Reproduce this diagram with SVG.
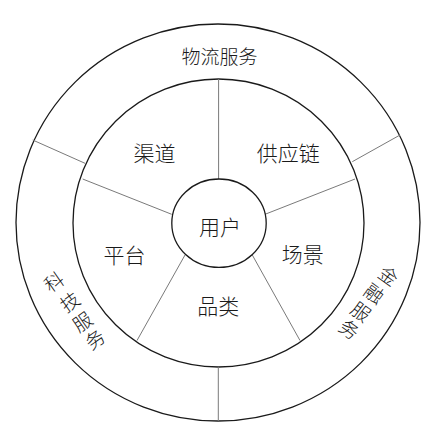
<svg xmlns="http://www.w3.org/2000/svg" width="426" height="425" viewBox="0 0 426 425">
<style>
.ring{fill:none;stroke:#1a1a1a;stroke-width:1.3}
.div{stroke:#7a7a7a;stroke-width:1;fill:none}
.t{font-family:"Noto Sans CJK SC","Noto Sans CJK JP",sans-serif;font-weight:300;fill:#1a1a1a;text-anchor:middle}
.l{font-size:21px}
.s{font-size:19px}
</style>
<rect width="426" height="425" fill="#ffffff"/>
<g id="outer-ring"><ellipse class="ring" cx="218" cy="222.5" rx="202" ry="198.5"/></g>
<g id="middle-ring"><ellipse class="ring" cx="218.5" cy="223" rx="145.5" ry="144"/></g>
<g id="connectors">
<line class="div" x1="218.6" y1="79" x2="218.6" y2="179"/>
<line class="div" x1="82.7" y1="179" x2="171.7" y2="214.3"/>
<line class="div" x1="355" y1="179" x2="265" y2="214.3"/>
<line class="div" x1="185" y1="255" x2="137" y2="340.5"/>
<line class="div" x1="252.3" y1="255" x2="300" y2="340.5"/>
<line class="div" x1="32.7" y1="140" x2="85" y2="163.3"/>
<line class="div" x1="400" y1="135" x2="352.3" y2="161.7"/>
<line class="div" x1="218.3" y1="367" x2="218.3" y2="421"/>
</g>
<g id="user"><ellipse class="ring" cx="219" cy="223.2" rx="47.2" ry="44.2"/><text class="t l" x="220" y="234.7">用户</text></g>
<g id="logistics"><text class="t s" x="219.5" y="63.5">物流服务</text></g>
<g id="channel"><text class="t l" x="154.6" y="160.5">渠道</text></g>
<g id="supply-chain"><text class="t l" x="288.3" y="160.5">供应链</text></g>
<g id="platform"><text class="t l" x="124.5" y="263">平台</text></g>
<g id="scene"><text class="t l" x="302.8" y="262">场景</text></g>
<g id="category"><text class="t l" x="218.3" y="314">品类</text></g>
<g id="tech-service">
<text class="t s" y="7" transform="translate(54,282) rotate(-35)">科</text>
<text class="t s" y="7" transform="translate(70,302) rotate(-35)">技</text>
<text class="t s" y="7" transform="translate(82.5,322) rotate(-35)">服</text>
<text class="t s" y="7" transform="translate(95,339.5) rotate(-35)">务</text>
</g>
<g id="finance-service">
<text class="t s" y="7" transform="translate(388.3,276) rotate(36)">金</text>
<text class="t s" y="7" transform="translate(374,293.7) rotate(36)">融</text>
<text class="t s" y="7" transform="translate(360.7,312) rotate(36)">服</text>
<text class="t s" y="7" transform="translate(349,329.3) rotate(36)">务</text>
</g>
</svg>
